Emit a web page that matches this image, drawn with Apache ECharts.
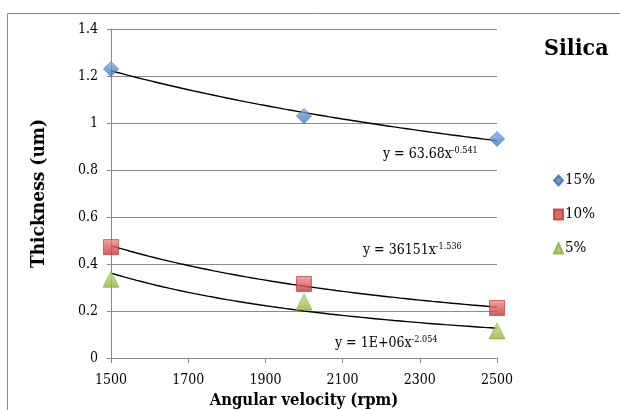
<!DOCTYPE html>
<html>
<head>
<meta charset="utf-8">
<script src="https://cdn.jsdelivr.net/npm/echarts@6/dist/echarts.min.js"></script>
<style>
  html, body { margin: 0; padding: 0; background: #fff; }
  #chart { width: 620px; height: 410px; }
</style>
</head>
<body>
<div id="chart"></div>
<script>
// Spin-coating film thickness for silica at three concentrations
const rpm = [1500, 2000, 2500];
const silica15 = [1.23, 1.03, 0.932];
const silica10 = [0.472, 0.315, 0.213];
const silica5 = [0.335, 0.238, 0.115];
const seriesNames = ['15%', '10%', '5%'];
const yTicks = [0, 0.2, 0.4, 0.6, 0.8, 1, 1.2, 1.4];
const xTicks = [1500, 1700, 1900, 2100, 2300, 2500];
const equations = ['y = 63.68x', 'y = 36151x', 'y = 1E+06x'];
const exponents = ['-0.541', '-1.536', '-2.054'];

const serif = '"DejaVu Serif Condensed", "DejaVu Serif", serif';

// Least-squares power fit y = a * x^b on log-log data
function powerFit(xs, ys) {
  const lx = xs.map(Math.log), ly = ys.map(Math.log);
  const n = xs.length;
  const mx = lx.reduce((s, v) => s + v, 0) / n;
  const my = ly.reduce((s, v) => s + v, 0) / n;
  let sxy = 0, sxx = 0;
  for (let i = 0; i < n; i++) {
    sxy += (lx[i] - mx) * (ly[i] - my);
    sxx += (lx[i] - mx) * (lx[i] - mx);
  }
  const b = sxy / sxx;
  const a = Math.exp(my - b * mx);
  return { a, b };
}

function trendCurve(xs, ys) {
  const f = powerFit(xs, ys);
  const x0 = xs[0], x1 = xs[xs.length - 1];
  const pts = [];
  const steps = 60;
  for (let i = 0; i <= steps; i++) {
    const x = x0 + (x1 - x0) * i / steps;
    pts.push([x, f.a * Math.pow(x, f.b)]);
  }
  return pts;
}

const pairs = (ys) => rpm.map((x, i) => [x, ys[i]]);

const grad = (top, bottom) => new echarts.graphic.LinearGradient(0, 0, 0, 1, [
  { offset: 0, color: top }, { offset: 1, color: bottom }
]);

const styles = [
  { symbol: 'diamond', size: 15, color: grad('#7fb0ea', '#3f74c0'), border: '#3a6db3', legend: '#4a80c8' },
  { symbol: 'rect', size: 15, color: grad('#f28a86', '#c9302c'), border: '#b8322e', legend: '#d9443f' },
  { symbol: 'triangle', size: 16, color: grad('#c6e07a', '#8cb33a'), border: '#86ab3a', legend: '#9cc04a' }
];

const dataSets = [silica15, silica10, silica5];

const series = [];
dataSets.forEach((ys, i) => {
  series.push({
    name: seriesNames[i],
    type: 'scatter',
    data: pairs(ys),
    symbol: styles[i].symbol,
    symbolSize: styles[i].size,
    itemStyle: { color: styles[i].color, borderColor: styles[i].border, borderWidth: 0.8 },
    z: 5
  });
  series.push({
    name: 'trend' + i,
    type: 'line',
    data: trendCurve(rpm, ys),
    showSymbol: false,
    lineStyle: { color: '#000', width: 1.4 },
    silent: true,
    z: 3
  });
});

// Equation labels for the trendlines
const eqPos = [[383, 146], [363, 242], [335, 335]];
const eqGraphics = equations.map((t, i) => ({
  type: 'text',
  left: eqPos[i][0],
  top: eqPos[i][1],
  style: {
    text: t + '{sup|' + exponents[i] + '}',
    font: '14px ' + serif,
    fill: '#000',
    rich: { sup: { fontSize: 9, fontFamily: serif, verticalAlign: 'top', padding: [0, 0, 8, 0] } }
  }
}));

const chart = echarts.init(document.getElementById('chart'), null, { renderer: 'canvas' });
chart.setOption({
  animation: false,
  backgroundColor: '#fff',
  grid: { left: 111, right: 123, top: 29, bottom: 52, outerBoundsMode: 'none', containLabel: false },
  xAxis: {
    type: 'value',
    min: xTicks[0],
    max: xTicks[xTicks.length - 1],
    interval: 200,
    name: 'Angular velocity (rpm)',
    nameLocation: 'middle',
    nameGap: 33,
    nameTextStyle: { fontFamily: serif, fontSize: 16.5, fontWeight: 'bold', color: '#000' },
    axisLine: { lineStyle: { color: '#888', width: 1 } },
    axisTick: { show: true, length: 5, lineStyle: { color: '#888' } },
    axisLabel: { fontFamily: serif, fontSize: 14, color: '#000', margin: 15, formatter: (v) => String(v) },
    splitLine: { show: false }
  },
  yAxis: {
    type: 'value',
    min: yTicks[0],
    max: yTicks[yTicks.length - 1],
    interval: 0.2,
    name: 'Thickness (um)',
    nameLocation: 'middle',
    nameRotate: 90,
    nameGap: 62,
    nameTextStyle: { fontFamily: serif, fontSize: 19, fontWeight: 'bold', color: '#000' },
    axisLine: { show: true, lineStyle: { color: '#888', width: 1 } },
    axisTick: { show: true, length: 4, lineStyle: { color: '#888' } },
    axisLabel: { fontFamily: serif, fontSize: 14, color: '#000', margin: 13, formatter: (v) => String(v) },
    splitLine: { show: true, lineStyle: { color: '#8c8c8c', width: 1 } }
  },
  legend: {
    orient: 'vertical',
    left: 548,
    top: 168,
    itemGap: 19,
    itemWidth: 9,
    itemHeight: 10,
    data: seriesNames.map((n, i) => ({ name: n, icon: styles[i].symbol, itemStyle: { color: styles[i].legend } })),
    textStyle: { fontFamily: serif, fontSize: 15, color: '#000', padding: [0, 0, 0, -3] }
  },
  graphic: [
    {
      type: 'rect',
      shape: { x: 7.5, y: 13.5, width: 700, height: 500 },
      style: { fill: 'none', stroke: '#8a8a8a', lineWidth: 1 },
      silent: true
    },
    {
      type: 'text',
      left: 544,
      top: 38,
      style: { text: 'Silica', font: 'bold 23px ' + serif, fill: '#000' }
    }
  ].concat(eqGraphics),
  series: series
});
</script>
</body>
</html>
